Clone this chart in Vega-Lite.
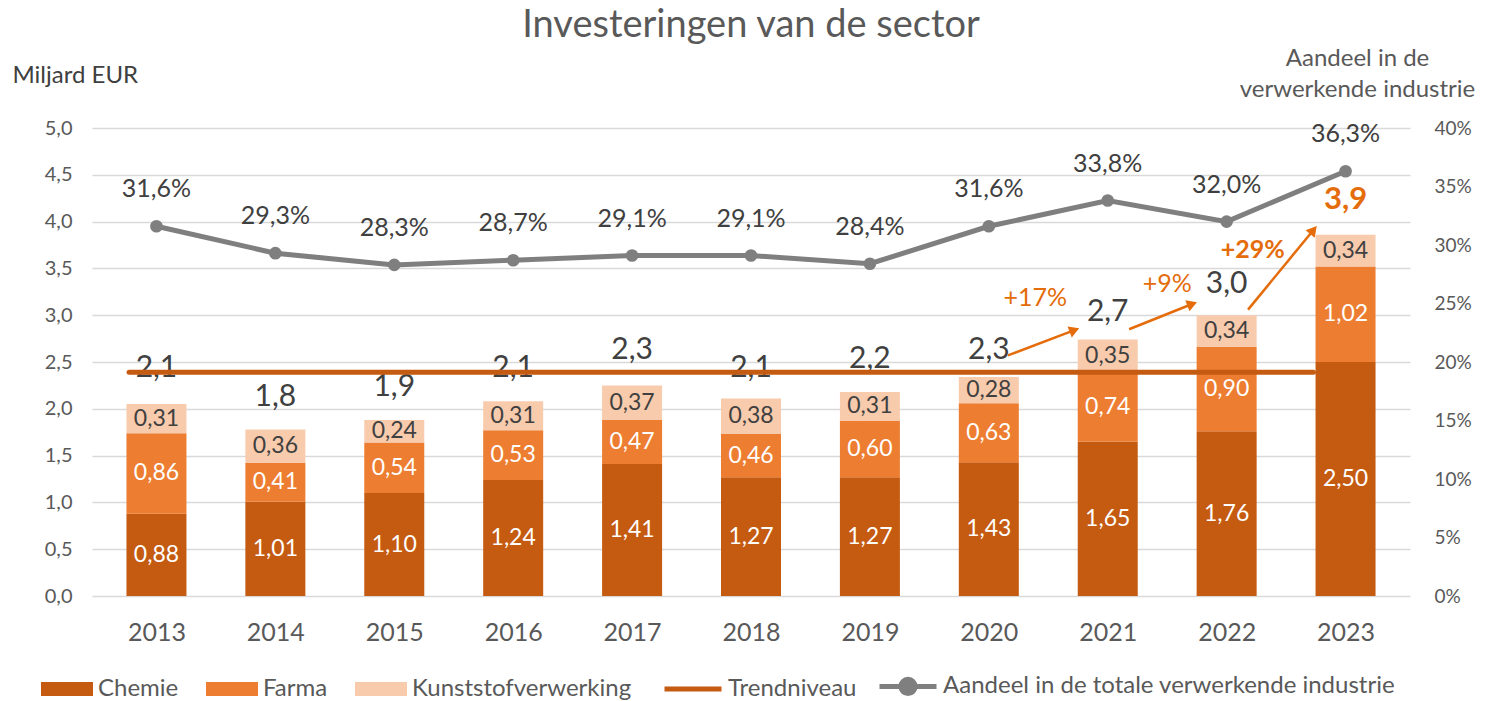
{
  "$schema": "https://vega.github.io/schema/vega-lite/v6.json",
  "width": 1318,
  "height": 468,
  "autosize": {"type": "none"},
  "padding": {"left": 92, "right": 75, "top": 128, "bottom": 105},
  "background": "white",
  "title": {"text": "Investeringen van de sector", "fontSize": 38, "font": "Lato", "fontWeight": "normal", "color": "#595959", "anchor": "middle", "offset": 1},
  "config": {
    "locale": {"number": {"decimal": ",", "thousands": ".", "grouping": [3], "currency": ["€", ""]}},
    "font": "Lato",
    "view": {"stroke": null},
    "axis": {"labelFont": "Lato", "titleFont": "Lato", "labelColor": "#595959", "titleColor": "#595959", "titleFontWeight": "normal", "ticks": false, "domain": false},
    "legend": {"labelFont": "Lato", "labelFontSize": 24, "labelColor": "#595959", "labelLimit": 0, "direction": "horizontal", "title": null, "padding": 0}
  },
  "datasets": {
    "jaren": [
      {"jaar": 2013, "Chemie": 0.88, "Farma": 0.86, "Kunststofverwerking": 0.31, "totaal": 2.1, "aandeel": 0.316},
      {"jaar": 2014, "Chemie": 1.01, "Farma": 0.41, "Kunststofverwerking": 0.36, "totaal": 1.8, "aandeel": 0.293},
      {"jaar": 2015, "Chemie": 1.10, "Farma": 0.54, "Kunststofverwerking": 0.24, "totaal": 1.9, "aandeel": 0.283},
      {"jaar": 2016, "Chemie": 1.24, "Farma": 0.53, "Kunststofverwerking": 0.31, "totaal": 2.1, "aandeel": 0.287},
      {"jaar": 2017, "Chemie": 1.41, "Farma": 0.47, "Kunststofverwerking": 0.37, "totaal": 2.3, "aandeel": 0.291},
      {"jaar": 2018, "Chemie": 1.27, "Farma": 0.46, "Kunststofverwerking": 0.38, "totaal": 2.1, "aandeel": 0.291},
      {"jaar": 2019, "Chemie": 1.27, "Farma": 0.60, "Kunststofverwerking": 0.31, "totaal": 2.2, "aandeel": 0.284},
      {"jaar": 2020, "Chemie": 1.43, "Farma": 0.63, "Kunststofverwerking": 0.28, "totaal": 2.3, "aandeel": 0.316},
      {"jaar": 2021, "Chemie": 1.65, "Farma": 0.74, "Kunststofverwerking": 0.35, "totaal": 2.7, "aandeel": 0.338},
      {"jaar": 2022, "Chemie": 1.76, "Farma": 0.90, "Kunststofverwerking": 0.34, "totaal": 3.0, "aandeel": 0.320},
      {"jaar": 2023, "Chemie": 2.50, "Farma": 1.02, "Kunststofverwerking": 0.34, "totaal": 3.9, "aandeel": 0.363}
    ],
    "trend": [
      {"jaar": 2012.77, "niveau": 2.39},
      {"jaar": 2022.73, "niveau": 2.39}
    ],
    "pijlen": [
      {"van_jaar": 2020.16, "van_waarde": 2.57, "naar_jaar": 2020.72, "naar_waarde": 2.84},
      {"van_jaar": 2021.18, "van_waarde": 2.85, "naar_jaar": 2021.71, "naar_waarde": 3.12},
      {"van_jaar": 2022.18, "van_waarde": 3.06, "naar_jaar": 2022.73, "naar_waarde": 3.91}
    ],
    "groei": [
      {"jaar": 2020.39, "waarde": 3.18, "tekst": "+17%"},
      {"jaar": 2021.5, "waarde": 3.33, "tekst": "+9%"},
      {"jaar": 2022.22, "waarde": 3.70, "tekst": "+29%"}
    ]
  },
  "data": {"name": "jaren"},
  "layer": [
    {
      "transform": [{"fold": ["Chemie", "Farma", "Kunststofverwerking"], "as": ["soort", "waarde"]}],
      "mark": {"type": "bar", "size": 60},
      "encoding": {
        "x": {"field": "jaar", "type": "quantitative",
          "scale": {"domain": [2012.5, 2023.5], "nice": false, "zero": false},
          "axis": {"title": null, "values": [2013, 2014, 2015, 2016, 2017, 2018, 2019, 2020, 2021, 2022, 2023], "format": "d", "grid": false, "labelFontSize": 25, "labelPadding": 24}},
        "y": {"field": "waarde", "type": "quantitative", "stack": "zero",
          "scale": {"domain": [0, 5], "nice": false},
          "axis": {"title": "Miljard EUR", "titleAngle": 0, "titleAlign": "left", "titleBaseline": "alphabetic", "titleX": -80, "titleY": -46, "titleFontSize": 24, "titleColor": "#404040",
            "values": [0, 0.5, 1, 1.5, 2, 2.5, 3, 3.5, 4, 4.5, 5], "format": ".1f", "labelFontSize": 20, "labelPadding": 20, "grid": true, "gridColor": "#D9D9D9", "gridWidth": 1.5}},
        "color": {"field": "soort", "type": "nominal",
          "scale": {"domain": ["Chemie", "Farma", "Kunststofverwerking"], "range": ["#C55A11", "#ED7D31", "#F8CBAD"]},
          "legend": {"orient": "none", "legendX": -51, "legendY": 535, "symbolType": "M-1,-0.27H1V0.27H-1Z", "symbolSize": 2704, "symbolStrokeWidth": 0, "labelOffset": 5, "columnPadding": 27}},
        "order": {"field": "soort", "type": "nominal", "sort": "ascending"}
      }
    },
    {
      "transform": [
        {"fold": ["Chemie", "Farma", "Kunststofverwerking"], "as": ["soort", "waarde"]},
        {"stack": "waarde", "groupby": ["jaar"], "sort": [{"field": "soort", "order": "ascending"}], "as": ["onder", "boven"]},
        {"calculate": "(datum.onder + datum.boven) / 2", "as": "midden"}
      ],
      "mark": {"type": "text", "fontSize": 23, "baseline": "middle"},
      "encoding": {
        "x": {"field": "jaar", "type": "quantitative", "title": null},
        "y": {"field": "midden", "type": "quantitative", "scale": {"domain": [0, 5], "nice": false}, "axis": null},
        "text": {"field": "waarde", "type": "quantitative", "format": ".2f"},
        "color": {"condition": {"test": "datum.soort === 'Kunststofverwerking'", "value": "#404040"}, "value": "white"}
      }
    },
    {
      "transform": [{"filter": "datum.jaar < 2023"}],
      "mark": {"type": "text", "fontSize": 30, "baseline": "middle", "dy": -31, "color": "#404040"},
      "encoding": {
        "x": {"field": "jaar", "type": "quantitative", "title": null},
        "y": {"field": "totaal", "type": "quantitative", "scale": {"domain": [0, 5], "nice": false}, "axis": null},
        "text": {"field": "totaal", "type": "quantitative", "format": ".1f"}
      }
    },
    {
      "transform": [{"filter": "datum.jaar === 2023"}],
      "mark": {"type": "text", "fontSize": 31, "fontWeight": "bold", "baseline": "middle", "dy": -31, "color": "#E46C0A"},
      "encoding": {
        "x": {"field": "jaar", "type": "quantitative", "title": null},
        "y": {"field": "totaal", "type": "quantitative", "scale": {"domain": [0, 5], "nice": false}, "axis": null},
        "text": {"field": "totaal", "type": "quantitative", "format": ".1f"}
      }
    },
    {
      "data": {"name": "trend"},
      "mark": {"type": "line", "strokeWidth": 5, "strokeCap": "round"},
      "encoding": {
        "x": {"field": "jaar", "type": "quantitative", "title": null},
        "y": {"field": "niveau", "type": "quantitative", "scale": {"domain": [0, 5], "nice": false}, "axis": null},
        "stroke": {"datum": "Trendniveau", "type": "nominal",
          "scale": {"domain": ["Trendniveau", "Aandeel in de totale verwerkende industrie"], "range": ["#C55A11", "#7F7F7F"]},
          "legend": {"orient": "none", "legendX": 570, "legendY": 527, "symbolType": "stroke", "symbolSize": 3249, "symbolStrokeWidth": 5, "labelOffset": 4, "columnPadding": 12,
            "encode": {"symbols": {"update": {
              "shape": {"signal": "datum.value === 'Trendniveau' ? 'M-1,0H1' : 'M-1,0H1M0.25,0A0.25,0.25,0,1,1,-0.25,0A0.25,0.25,0,1,1,0.25,0Z'"},
              "fill": {"value": "#7F7F7F"}}}}}
        }
      }
    },
    {
      "data": {"name": "pijlen"},
      "mark": {"type": "rule", "strokeWidth": 2.5, "color": "#E46C0A"},
      "encoding": {
        "x": {"field": "van_jaar", "type": "quantitative", "title": null},
        "y": {"field": "van_waarde", "type": "quantitative", "scale": {"domain": [0, 5], "nice": false}, "axis": null},
        "x2": {"field": "naar_jaar"},
        "y2": {"field": "naar_waarde"}
      }
    },
    {
      "data": {"name": "pijlen"},
      "transform": [{"filter": "datum.van_jaar < 2022"}],
      "mark": {"type": "point", "shape": "triangle-up", "filled": true, "size": 140, "angle": 69, "color": "#E46C0A", "opacity": 1},
      "encoding": {
        "x": {"field": "naar_jaar", "type": "quantitative", "title": null},
        "y": {"field": "naar_waarde", "type": "quantitative", "scale": {"domain": [0, 5], "nice": false}, "axis": null}
      }
    },
    {
      "data": {"name": "pijlen"},
      "transform": [{"filter": "datum.van_jaar > 2022"}],
      "mark": {"type": "point", "shape": "triangle-up", "filled": true, "size": 140, "angle": 40, "color": "#E46C0A", "opacity": 1},
      "encoding": {
        "x": {"field": "naar_jaar", "type": "quantitative", "title": null},
        "y": {"field": "naar_waarde", "type": "quantitative", "scale": {"domain": [0, 5], "nice": false}, "axis": null}
      }
    },
    {
      "data": {"name": "groei"},
      "transform": [{"filter": "datum.tekst !== '+29%'"}],
      "mark": {"type": "text", "fontSize": 25, "baseline": "middle", "color": "#E46C0A"},
      "encoding": {
        "x": {"field": "jaar", "type": "quantitative", "title": null},
        "y": {"field": "waarde", "type": "quantitative", "scale": {"domain": [0, 5], "nice": false}, "axis": null},
        "text": {"field": "tekst", "type": "nominal"}
      }
    },
    {
      "data": {"name": "groei"},
      "transform": [{"filter": "datum.tekst === '+29%'"}],
      "mark": {"type": "text", "fontSize": 25, "fontWeight": "bold", "baseline": "middle", "color": "#E46C0A"},
      "encoding": {
        "x": {"field": "jaar", "type": "quantitative", "title": null},
        "y": {"field": "waarde", "type": "quantitative", "scale": {"domain": [0, 5], "nice": false}, "axis": null},
        "text": {"field": "tekst", "type": "nominal"}
      }
    },
    {
      "mark": {"type": "line", "strokeWidth": 5},
      "encoding": {
        "x": {"field": "jaar", "type": "quantitative", "title": null},
        "y": {"field": "aandeel", "type": "quantitative",
          "scale": {"domain": [0, 0.4], "nice": false},
          "axis": {"orient": "right", "title": ["Aandeel in de", "verwerkende industrie"], "titleAngle": 0, "titleAlign": "center", "titleBaseline": "alphabetic", "titleX": -53, "titleY": -63, "titleFontSize": 24, "titleLineHeight": 31,
            "values": [0, 0.05, 0.1, 0.15, 0.2, 0.25, 0.3, 0.35, 0.4], "format": ".0%", "labelFontSize": 19, "labelPadding": 24, "grid": false}},
        "stroke": {"datum": "Aandeel in de totale verwerkende industrie", "type": "nominal"}
      }
    },
    {
      "mark": {"type": "circle", "size": 160, "color": "#7F7F7F", "opacity": 1},
      "encoding": {
        "x": {"field": "jaar", "type": "quantitative", "title": null},
        "y": {"field": "aandeel", "type": "quantitative", "scale": {"domain": [0, 0.4], "nice": false}, "axis": null}
      }
    },
    {
      "mark": {"type": "text", "fontSize": 25, "baseline": "middle", "dy": -37, "color": "#404040"},
      "encoding": {
        "x": {"field": "jaar", "type": "quantitative", "title": null},
        "y": {"field": "aandeel", "type": "quantitative", "scale": {"domain": [0, 0.4], "nice": false}, "axis": null},
        "text": {"field": "aandeel", "type": "quantitative", "format": ".1%"}
      }
    }
  ],
  "resolve": {"scale": {"y": "independent"}}
}
